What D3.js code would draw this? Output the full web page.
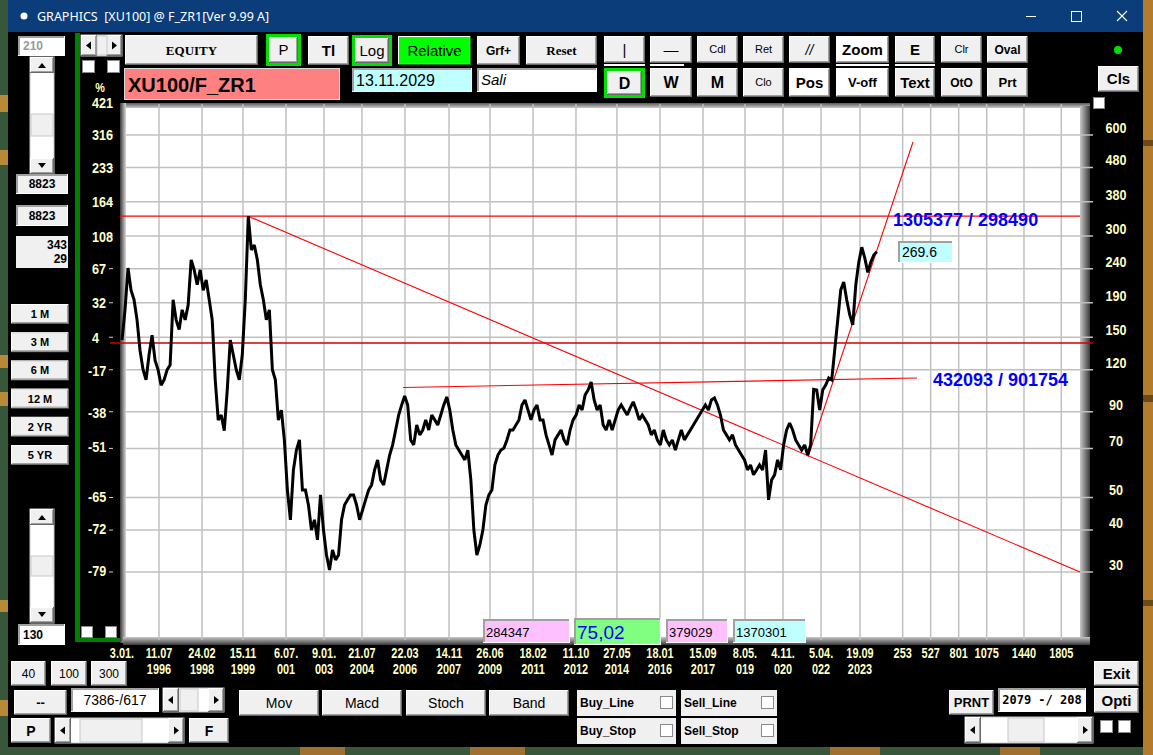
<!DOCTYPE html>
<html><head><meta charset="utf-8">
<script src="https://cdn.jsdelivr.net/npm/d3@7"></script>
<style>html,body{margin:0;padding:0;background:#000;overflow:hidden}svg{display:block}</style>
</head><body>
<svg id="c" width="1153" height="755"></svg>
<script>
// ---------------- DATA ----------------
// close values (price units of right axis), sampled evenly from bar 0 to lastBar
const closeSeries = [147,181,241,207,194,169,137,120,112,133,152,128,120,108,112,120,124,194,169,158,
181,169,187,255,238,215,238,207,222,194,169,112,85,88,79,104.5,147,133,120,112,
133,194,344,273,282,255,215,194,169,181,120,112,85,91,74,52.6,42.9,60.4,69.2,74.2,
52.6,52.6,47.5,40,42.9,37.4,50.9,40,33.7,30.4,34.9,32.6,33.7,42.9,47.5,49.2,50.9,50.9,47.5,42.9,
45.9,49.2,52.6,54.5,60.4,64.7,56.4,54.5,60.4,66.9,71.7,79.4,88,94.3,100.3,94.3,74.2,71.7,82.2,76.8,
79.4,85.1,79.4,88,85.1,82.2,88,94.3,99.6,91.1,79.4,71.7,69.2,66.9,64.7,69.2,56.4,40,33.7,36.1,
40,47.5,50.9,52.6,62.5,66.9,69.2,70.2,74.2,79.4,79.4,82.2,85.1,94.3,97.6,91.1,85.1,91.1,94.3,85.1,
85.1,76.8,71.7,66.9,74.2,76.8,79.4,74.2,71.7,79.4,85.1,88,94.3,91.1,101,104.5,110.4,97.6,91.1,94.3,
82.2,79.4,85.1,79.4,85.1,91.1,94.3,91.1,88,92.4,96.3,91.1,85.1,88,85.1,82.2,76.8,79.4,74.2,71.7,
79.4,74.2,71.7,74.2,69.2,74.2,79.4,74.2,76.8,79.4,82.2,85.1,88,91.1,94.3,91.1,97.6,98.9,94.3,88,
79.4,76.8,74.2,76.8,71.7,69.2,66.9,64.7,60.4,62.5,58.4,60.4,62.5,60.4,69.2,49.2,56.4,58.4,64.7,60.4,
71.7,79.4,83.3,79.4,74.2,71.7,69.2,71.7,66.9,71.7,105,104.5,91.1,104.5,108.1,113.4,111.9,137.5,168.8,207.4,
219,193.6,174.7,163.2,214.6,251,278,258,234,251,263.6,269.6];
const lastBar = 7386;
const totalBars = 9374;
const dateTop    = ["3.01.","11.07","24.02","15.11","6.07.","9.01.","21.07","22.03","14.11","26.06","18.02","11.10","27.05","18.01","15.09","8.05.","4.11.","5.04.","19.09"];
const dateBottom = ["","1996","1998","1999","001","003","2004","2006","2007","2009","2011","2012","2014","2016","2017","019","020","022","2023"];
const dateBars   = [0,362,783,1184,1605,1977,2348,2769,3200,3601,4022,4442,4843,5264,5685,6096,6468,6840,7221];
const futureOffsets = [253,527,801,1075,1440,1805];
const priceTicks = [600,480,380,300,240,190,150,120,90,70,50,40,30];
const pctTicks = [421,316,233,164,108,67,32,4,-17,-38,-51,-65,-72,-79];
const basePrice = 144.2;
const resistancePrice = 344;
const downTrend = [[1233,344],[9374,30]];
const flatTrend = [[2750,106.3],[7779,113.4]];
const upTrend = [[6712,66.0],[7740,572]];
const labelHigh = "1305377 / 298490";
const labelLow = "432093 / 901754";
const lastValueText = "269.6";
const infoBoxes = ["284347","75,02","379029","1370301"];

// ---------------- DRAW ----------------
const svg = d3.select("#c");
const W = 1153, H = 755;
const SANS = "'Liberation Sans',Arial,sans-serif";
const SERIF = "'Liberation Serif','Times New Roman',serif";
const AXC = "#ffffc8";

// wallpaper
svg.append("rect").attr("width",W).attr("height",H).attr("fill","#37563a");
[[95,112],[150,165],[355,368],[392,406],[600,612],[700,716]].forEach(d=>
  svg.append("rect").attr("x",0).attr("y",d[0]).attr("width",8).attr("height",d[1]-d[0]).attr("fill","#b98a36"));
svg.append("rect").attr("x",1143).attr("y",0).attr("width",10).attr("height",H).attr("fill","#b27c2c");
[[140,146],[395,402],[600,606]].forEach(d=>
  svg.append("rect").attr("x",1143).attr("y",d[0]).attr("width",10).attr("height",d[1]-d[0]).attr("fill","#6b4a1a"));
[[300,345],[470,525],[830,880],[1000,1040]].forEach(d=>
  svg.append("rect").attr("x",d[0]).attr("y",747).attr("width",d[1]-d[0]).attr("height",8).attr("fill","#a07030"));

// window
svg.append("rect").attr("x",8).attr("y",0).attr("width",1135).attr("height",747).attr("fill","#000");
svg.append("rect").attr("x",8).attr("y",0).attr("width",1135).attr("height",32).attr("fill","#0b3d7b");
svg.append("circle").attr("cx",24).attr("cy",16).attr("r",3.5).attr("fill","#fff");
svg.append("text").attr("x",37).attr("y",21).attr("fill","#fff").attr("font-family","'Noto Sans','DejaVu Sans',sans-serif")
  .attr("font-size",12.5).attr("xml:space","preserve").text("GRAPHICS  [XU100] @ F_ZR1[Ver 9.99 A]");
svg.append("line").attr("x1",1026).attr("x2",1036).attr("y1",16.5).attr("y2",16.5).attr("stroke","#fff");
svg.append("rect").attr("x",1071.5).attr("y",11.5).attr("width",10).attr("height",10).attr("fill","none").attr("stroke","#fff");
svg.append("path").attr("d","M1117,11L1127,21M1127,11L1117,21").attr("stroke","#fff").attr("stroke-width",1.1);

// helpers
function bevel(x,y,w,h,face,dark){
  svg.append("rect").attr("x",x).attr("y",y).attr("width",w).attr("height",h).attr("fill",dark||"#696969");
  svg.append("rect").attr("x",x).attr("y",y).attr("width",w-1).attr("height",h-1).attr("fill","#ffffff");
  svg.append("rect").attr("x",x+1).attr("y",y+1).attr("width",w-2).attr("height",h-2).attr("fill","#a0a0a0");
  svg.append("rect").attr("x",x+1).attr("y",y+1).attr("width",w-3).attr("height",h-3).attr("fill",face||"#f0f0f0");
}
function label(x,y,t,o){
  o=o||{};
  return svg.append("text").attr("x",x).attr("y",y).attr("dy","0.36em")
    .attr("text-anchor",o.anchor||"middle").attr("font-family",o.family||SANS)
    .attr("font-size",o.size||13).attr("font-weight",o.weight||"normal")
    .attr("font-style",o.style||"normal").attr("fill",o.color||"#000").attr("xml:space","preserve").text(t);
}
function axText(g,x,y,t,anchor,size,sx){
  return g.append("text").attr("transform",`translate(${x},${y}) scale(${sx},1)`).attr("dy","0.36em")
    .attr("text-anchor",anchor).attr("font-family",SANS).attr("font-weight","bold").attr("font-size",size)
    .attr("fill",AXC).text(t);
}
function button(x,y,w,h,t,o){
  o=o||{};
  if(o.frame){
    svg.append("rect").attr("x",x-3).attr("y",y-3).attr("width",w+6).attr("height",h+6).attr("fill",o.frame);
  }
  bevel(x,y,w,h,o.face,o.dark);
  if(o.under) svg.append("rect").attr("x",x).attr("y",y+h+1).attr("width",o.under).attr("height",2).attr("fill","#fff");
  if(t) label(x+w/2,y+h/2,t,o);
}
function sunken(x,y,w,h,fill){
  svg.append("rect").attr("x",x).attr("y",y).attr("width",w).attr("height",h).attr("fill","#ffffff");
  svg.append("rect").attr("x",x).attr("y",y).attr("width",w-1).attr("height",h-1).attr("fill","#a0a0a0");
  svg.append("rect").attr("x",x+2).attr("y",y+2).attr("width",w-3).attr("height",h-3).attr("fill",fill||"#fff");
}
function checkbox(x,y,s){
  svg.append("rect").attr("x",x).attr("y",y).attr("width",s).attr("height",s).attr("fill","#fff").attr("stroke","#8a8a8a");
}
function vscroll(x,y,w,h,thumbY,thumbH){
  svg.append("rect").attr("x",x).attr("y",y).attr("width",w).attr("height",h).attr("fill","#ffffff").attr("stroke","#c8c8c8");
  button(x,y,w,16,"");
  svg.append("path").attr("d",`M${x+w/2-4},${y+11}L${x+w/2+4},${y+11}L${x+w/2},${y+6}Z`).attr("fill","#000");
  button(x,y+h-16,w,16,"");
  svg.append("path").attr("d",`M${x+w/2-4},${y+h-11}L${x+w/2+4},${y+h-11}L${x+w/2},${y+h-6}Z`).attr("fill","#000");
  svg.append("rect").attr("x",x+1).attr("y",thumbY).attr("width",w-2).attr("height",thumbH).attr("fill","#f0f0f0").attr("stroke","#c8c8c8");
}
function hscroll(x,y,w,h,thumbX,thumbW){
  svg.append("rect").attr("x",x).attr("y",y).attr("width",w).attr("height",h).attr("fill","#ffffff").attr("stroke","#c8c8c8");
  button(x,y,16,h,"");
  svg.append("path").attr("d",`M${x+10},${y+h/2-4}L${x+10},${y+h/2+4}L${x+5},${y+h/2}Z`).attr("fill","#000");
  button(x+w-16,y,16,h,"");
  svg.append("path").attr("d",`M${x+w-10},${y+h/2-4}L${x+w-10},${y+h/2+4}L${x+w-5},${y+h/2}Z`).attr("fill","#000");
  svg.append("rect").attr("x",thumbX).attr("y",y+1).attr("width",thumbW).attr("height",h-2).attr("fill","#f0f0f0").attr("stroke","#c8c8c8");
}

// ---- top toolbar ----
sunken(18,36,47,20,"#fff");
label(23,46,"210",{anchor:"start",weight:"bold",size:12,color:"#9a9a9a"});
hscroll(81,35,41,21,97,10);
checkbox(82.5,60.5,12); checkbox(107.5,60.5,12);
button(125,35,133,30,"EQUITY",{family:SERIF,weight:"bold",size:13});
button(269,37,29,26,"P",{frame:"#00e000",size:15});
button(308,36,41,29,"Tl",{weight:"bold",size:15});
button(355,38,34,25,"Log",{frame:"#00e000",size:15});
button(398,36,73,29,"Relative",{face:"#00ff00",dark:"#008000",size:15});
button(477,36,43,29,"Grf+",{weight:"bold",size:12});
button(526,36,71,29,"Reset",{family:SERIF,weight:"bold",size:13});
const row1 = [[604,41,"|",{size:15,under:41}],[650,42,"—",{size:15,under:34}],[697,41,"Cdl",{size:11}],
  [743,41,"Ret",{size:11}],[789,41,"//",{size:14,style:"italic"}],[836,53,"Zoom",{face:"#fff",weight:"bold",size:15,under:53}],
  [895,40,"E",{weight:"bold",size:15,under:40}],[941,41,"Clr",{size:11}],[987,41,"Oval",{weight:"bold",size:12}]];
row1.forEach(d=>button(d[0],36,d[1],27,d[2],d[3]));
const row2 = [[650,42,"W",{weight:"bold",size:16}],[697,41,"M",{weight:"bold",size:16}],[743,41,"Clo",{size:11}],
  [789,41,"Pos",{face:"#fff",weight:"bold",size:15}],[836,53,"V-off",{face:"#fff",weight:"bold",size:13}],
  [895,40,"Text",{weight:"bold",size:15}],[941,41,"OtO",{weight:"bold",size:12}],[987,41,"Prt",{weight:"bold",size:13}]];
row2.forEach(d=>button(d[0],68,d[1],29,d[2],d[3]));
button(607,71,35,24,"D",{frame:"#00e000",weight:"bold",size:16});
svg.append("circle").attr("cx",1118).attr("cy",50).attr("r",4).attr("fill","#00e000");
button(1098,66,41,26,"Cls",{weight:"bold",size:15});
checkbox(1093.5,97.5,11);

// name / date boxes
svg.append("rect").attr("x",124.5).attr("y",68.5).attr("width",215).attr("height",31).attr("fill","#ff8080").attr("stroke","#d8d8d8");
label(128,85,"XU100/F_ZR1",{anchor:"start",weight:"bold",size:20});
sunken(352,68,120,24,"#c0ffff");
label(356,80,"13.11.2029",{anchor:"start",size:16});
sunken(477,68,120,24,"#fff");
label(481,80,"Sali",{anchor:"start",size:15,style:"italic"});

// ---- left panel ----
vscroll(30,57,24,117,114,22);
sunken(16,174,52,20,"#f0f0f0"); label(42,184,"8823",{weight:"bold",size:12});
sunken(16,205,52,21,"#f0f0f0"); label(42,216,"8823",{weight:"bold",size:12});
svg.append("rect").attr("x",16).attr("y",236).attr("width",52).attr("height",32).attr("fill","#f0f0f0");
label(67,245,"343",{anchor:"end",weight:"bold",size:12});
label(67,259,"29",{anchor:"end",weight:"bold",size:12});
["1 M","3 M","6 M","12 M","2 YR","5 YR"].forEach((t,i)=>button(11,304+i*28.2,58,20,t,{weight:"bold",size:11}));
vscroll(30,509,24,114,556,20);
sunken(18,624,47,21,"#fff"); label(23,635,"130",{anchor:"start",weight:"bold",size:12});
svg.append("rect").attr("x",75).attr("y",33).attr("width",5).attr("height",609).attr("fill","#008000");
svg.append("rect").attr("x",75).attr("y",638).attr("width",47).attr("height",4).attr("fill","#008000");
checkbox(81.5,626.5,11); checkbox(105.5,626.5,11);

// ---- plot frame ----
const defs = svg.append("defs");
function grad(id,x1,y1,x2,y2,c1,c2){
  const g=defs.append("linearGradient").attr("id",id).attr("x1",x1).attr("y1",y1).attr("x2",x2).attr("y2",y2);
  g.append("stop").attr("offset","0").attr("stop-color",c1);
  g.append("stop").attr("offset","1").attr("stop-color",c2);
}
grad("gl",0,0,1,0,"#3a3a3a","#d8d8d8");
grad("gt",0,0,0,1,"#5a5a5a","#e0e0e0");
grad("gr",0,0,1,0,"#c8c8c8","#3a3a3a");
grad("gb",0,0,0,1,"#c8c8c8","#3a3a3a");
svg.append("rect").attr("x",120).attr("y",103).attr("width",970).attr("height",6).attr("fill","url(#gt)");
svg.append("rect").attr("x",120).attr("y",103).attr("width",6).attr("height",540).attr("fill","url(#gl)");
svg.append("rect").attr("x",1080).attr("y",106).attr("width",10).attr("height",539).attr("fill","url(#gr)");
svg.append("rect").attr("x",123).attr("y",637).attr("width",967).attr("height",8).attr("fill","url(#gb)");
svg.append("rect").attr("x",126).attr("y",108).attr("width",954).attr("height",529).attr("fill","#fff");

// scales
const xScale = d3.scaleLinear().domain([0,totalBars]).range([122,1080]);
const yScale = d3.scaleLog().domain([30,600]).range([572,135]);

// grid
const gridBars = dateBars.slice(1).concat(futureOffsets.map(o=>lastBar+o));
svg.append("g").selectAll("line").data(gridBars).join("line")
  .attr("x1",d=>xScale(d)).attr("x2",d=>xScale(d)).attr("y1",104).attr("y2",640)
  .attr("stroke","#c0c0c0").attr("stroke-width",1.5);
svg.append("g").selectAll("line").data(priceTicks).join("line")
  .attr("x1",126).attr("x2",1093).attr("y1",d=>yScale(d)).attr("y2",d=>yScale(d))
  .attr("stroke","#c0c0c0").attr("stroke-width",1.5);
svg.append("g").selectAll("line").data(priceTicks).join("line")
  .attr("x1",109).attr("x2",113).attr("y1",d=>yScale(d)).attr("y2",d=>yScale(d))
  .attr("stroke","#d0d0d0").attr("stroke-width",1);

// right axis
const ra = svg.append("g").attr("transform","translate(1116,0)")
  .call(d3.axisRight(yScale).tickValues(priceTicks).tickFormat(d3.format("d")).tickSize(0).tickPadding(0));
ra.select(".domain").remove();
ra.selectAll("text").attr("x",null).attr("dy",null)
  .attr("transform","translate(0,-8) scale(0.84,1)").attr("dominant-baseline","central")
  .attr("text-anchor","middle").attr("fill",AXC).attr("font-family",SANS).attr("font-weight","bold").attr("font-size",15);

// left percent axis
const la = svg.append("g");
axText(la,100,88,"%","middle",12,0.9);
pctTicks.forEach(p=>axText(la,p<0?88:92,yScale(basePrice*(1+p/100)),p,"start",15,0.84));

// date labels
const dg = svg.append("g");
dateBars.forEach((b,i)=>{
  axText(dg,xScale(b),653,dateTop[i],"middle",14,0.78);
  if(dateBottom[i]) axText(dg,xScale(b),669,dateBottom[i],"middle",14,0.78);
});
futureOffsets.forEach(o=>axText(dg,xScale(lastBar+o),653,o,"middle",14,0.78));

// red lines
const lineGen = d3.line().x(d=>xScale(d[0])).y(d=>yScale(d[1]));
svg.append("line").attr("x1",xScale(0)-2).attr("x2",xScale(totalBars)).attr("y1",yScale(resistancePrice)).attr("y2",yScale(resistancePrice))
  .attr("stroke","#ff0000").attr("stroke-width",1.2);
svg.append("line").attr("x1",110).attr("x2",1093).attr("y1",yScale(basePrice)).attr("y2",yScale(basePrice))
  .attr("stroke","#d00000").attr("stroke-width",1.5);
[downTrend,flatTrend,upTrend].forEach(seg=>
  svg.append("path").attr("d",lineGen(seg)).attr("fill","none").attr("stroke","#ff0000").attr("stroke-width",1.1));

// series
const n = closeSeries.length;
const seriesLine = d3.line().x((d,i)=>xScale(i*lastBar/(n-1))).y(d=>yScale(d));
svg.append("path").attr("d",seriesLine(closeSeries)).attr("fill","none").attr("stroke","#000")
  .attr("stroke-width",3).attr("stroke-linejoin","miter").attr("stroke-miterlimit",2);

// annotations
svg.append("text").attr("x",893).attr("y",226).attr("fill","#0000ff").attr("font-family",SANS).attr("font-weight","bold").attr("font-size",18).text(labelHigh);
svg.append("text").attr("x",933).attr("y",386).attr("fill","#0000ff").attr("font-family",SANS).attr("font-weight","bold").attr("font-size",18).text(labelLow);
sunken(898,241,55,22,"#c0ffff");
label(902,252,lastValueText,{anchor:"start",size:14});

// info boxes
const ib = [[483,87,"#ffc0ff",13,"#000"],[574,87,"#80ff80",19,"#0000ff"],[666,62,"#ffc0ff",13,"#000"],[733,73,"#c0ffff",13,"#000"]];
ib.forEach((d,i)=>{
  const y = i===1?618:619, h = i===1?27:24;
  sunken(d[0],y,d[1],h,d[2]);
  label(d[0]+3,y+h/2+1,infoBoxes[i],{anchor:"start",size:d[3],color:d[4]});
});

// ---- bottom controls ----
button(11,661,35,25,"40",{size:12});
button(51,661,36,25,"100",{size:12});
button(91,661,36,25,"300",{size:12});
button(14,690,53,25,"--",{weight:"bold",size:13});
sunken(71,688,88,24,"#fff"); label(115,700,"7386-/617",{size:14});
hscroll(163,688,61,24,180,18);
[["Mov",239],["Macd",322],["Stoch",406],["Band",489]].forEach(d=>button(d[1],690,80,26,d[0],{size:14}));
button(11,718,40,25,"P",{weight:"bold",size:14});
hscroll(55,718,129,25,80,62);
button(189,718,40,25,"F",{weight:"bold",size:14});
[["Buy_Line",577,690,99],["Sell_Line",681,690,96],["Buy_Stop",577,718,99],["Sell_Stop",681,718,96]].forEach(d=>{
  svg.append("rect").attr("x",d[1]).attr("y",d[2]).attr("width",d[3]).attr("height",26).attr("fill","#f0f0f0");
  label(d[1]+3,d[2]+13,d[0],{anchor:"start",weight:"bold",size:12});
  checkbox(d[1]+d[3]-15.5,d[2]+6.5,12);
});
button(949,690,45,25,"PRNT",{weight:"bold",size:13});
sunken(998,688,88,24,"#fff");
label(1042,700,"2079 -/ 208",{size:12,weight:"bold",family:"'DejaVu Sans Mono',monospace"});
button(1094,661,45,25,"Exit",{weight:"bold",size:15});
button(1094,688,45,25,"Opti",{weight:"bold",size:15});
hscroll(965,717,128,26,1008,36);
checkbox(1100.5,720.5,12); checkbox(1118.5,720.5,12);
</script>
</body></html>
